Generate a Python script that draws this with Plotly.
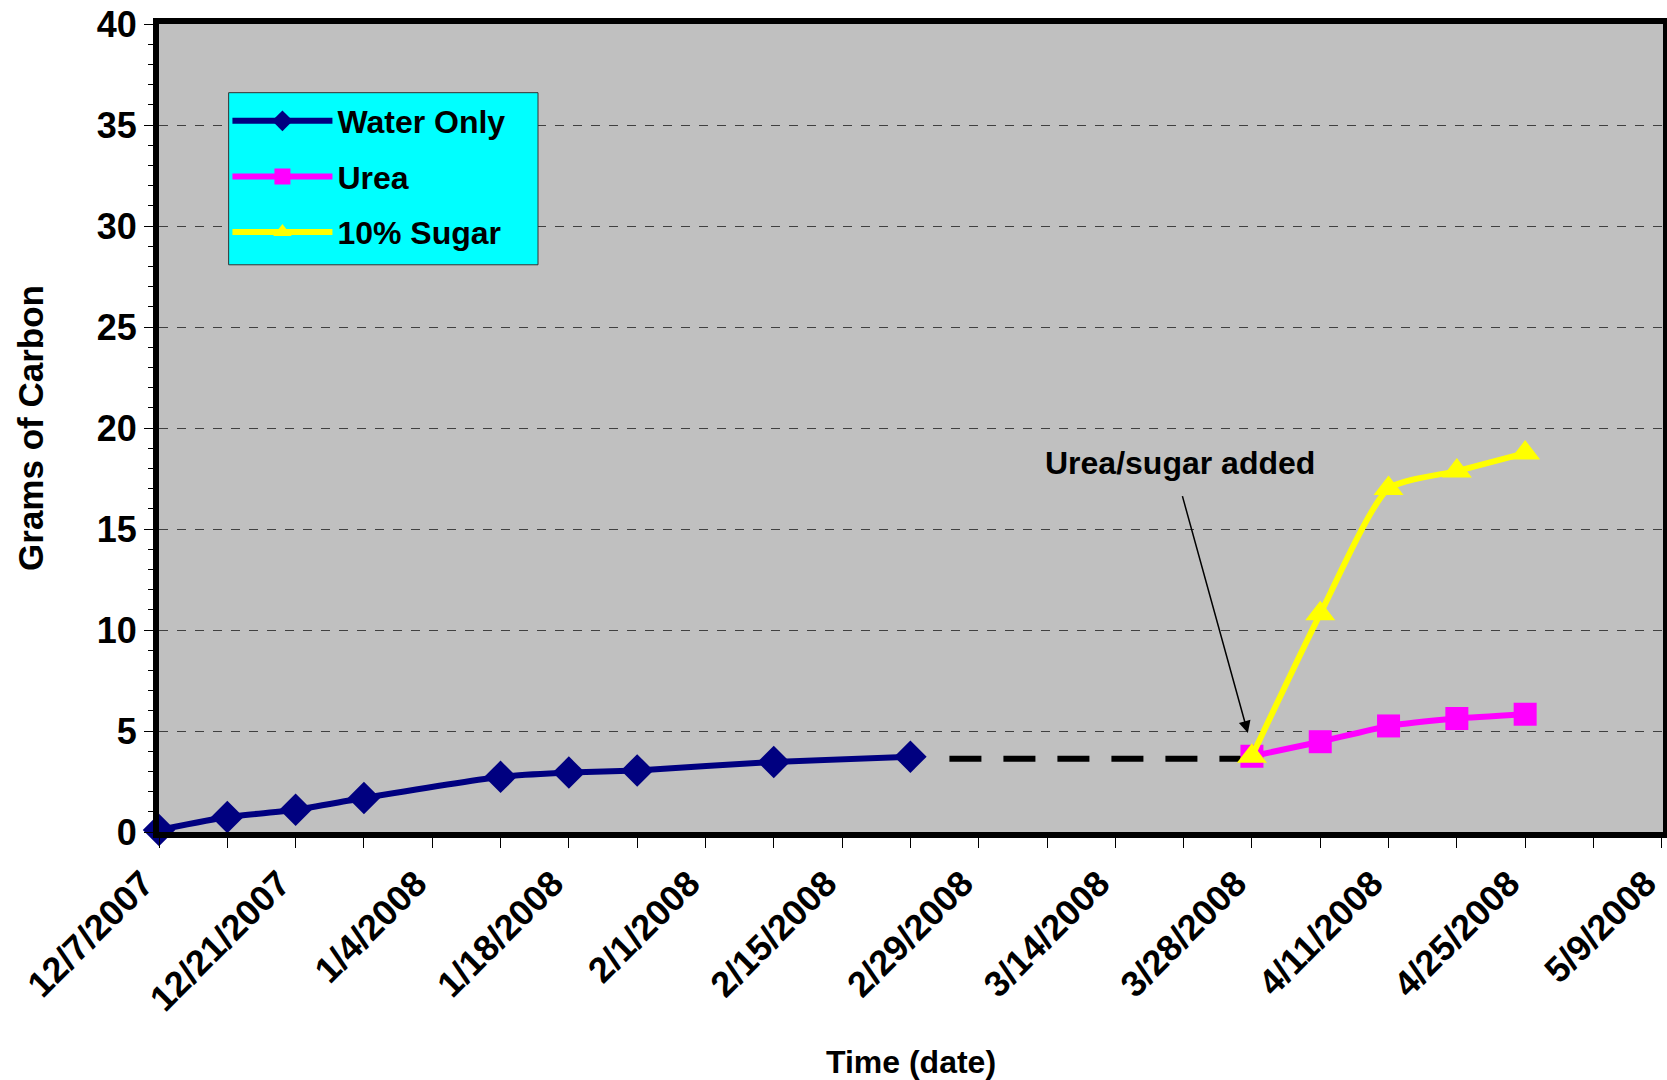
import plotly.graph_objects as go

# Measurement dates and cumulative grams of carbon
water_dates = ["2007-12-07", "2007-12-14", "2007-12-21", "2007-12-28", "2008-01-11",
               "2008-01-18", "2008-01-25", "2008-02-08", "2008-02-22"]
water_values = [0.1, 0.74, 1.1, 1.68, 2.73, 2.94, 3.05, 3.47, 3.73]

treat_dates = ["2008-03-28", "2008-04-04", "2008-04-11", "2008-04-18", "2008-04-25"]
urea_values = [3.75, 4.47, 5.25, 5.62, 5.83]
sugar_values = [3.75, 10.8, 17.0, 17.87, 18.76]

# Unmeasured gap between the water-only run and the treatments
bridge_dates = ["2008-02-26", "2008-03-27 12:00"]
bridge_values = [3.63, 3.63]

# Annotation anchor points (date, grams)
note_text = "Urea/sugar added"
note_text_pos = ("2008-03-20 14:00", 18.25)
note_tail = ("2008-03-20 20:00", 16.7)
note_head = ("2008-03-27 14:00", 4.9)

FONT = "Liberation Sans, Arial, sans-serif"
DAY_MS = 86400000


def bold(size):
    return dict(family=FONT, size=size, color="black", weight="bold")


fig = go.Figure()

fig.add_trace(go.Scatter(
    x=bridge_dates, y=bridge_values, mode="lines",
    line=dict(color="black", width=6, dash="32px,22px"),
    showlegend=False, hoverinfo="skip", cliponaxis=False))

fig.add_trace(go.Scatter(
    x=water_dates, y=water_values, name="Water Only", legendgroup="w",
    mode="lines+markers",
    line=dict(color="#000080", width=6, shape="spline", smoothing=0.5),
    marker=dict(symbol="diamond", size=25, color="#000080"),
    cliponaxis=False))

fig.add_trace(go.Scatter(
    x=treat_dates, y=urea_values, name="Urea", legendgroup="u",
    mode="lines+markers",
    line=dict(color="#FF00FF", width=6, shape="spline", smoothing=0.5),
    marker=dict(symbol="square", size=23, color="#FF00FF"),
    cliponaxis=False))

fig.add_trace(go.Scatter(
    x=treat_dates, y=sugar_values, name="10% Sugar", legendgroup="s",
    mode="lines+markers",
    line=dict(color="#FFFF00", width=6, shape="spline", smoothing=0.6),
    marker=dict(symbol="triangle-up", size=26, color="#FFFF00"),
    cliponaxis=False))

fig.add_annotation(
    x=note_text_pos[0], y=note_text_pos[1], xref="x", yref="y",
    text=note_text, showarrow=False, font=bold(32))

fig.add_annotation(
    x=note_head[0], y=note_head[1], ax=note_tail[0], ay=note_tail[1],
    xref="x", yref="y", axref="x", ayref="y", text="",
    showarrow=True, arrowhead=2, arrowsize=1.6, arrowwidth=1.5, arrowcolor="black")

# Cyan panel behind the legend entries
fig.add_shape(
    type="rect", xref="paper", yref="paper",
    x0=0.0463, x1=0.252, y0=0.702, y1=0.915,
    fillcolor="#00FFFF", line=dict(color="#333333", width=1), layer="above")

fig.update_layout(
    width=1667, height=1080,
    margin=dict(l=159, r=4, t=24, b=248),
    paper_bgcolor="white", plot_bgcolor="#C0C0C0",
    font=bold(30),
    legend=dict(
        x=0.0455, y=0.914, xanchor="left", yanchor="top",
        bgcolor="rgba(0,0,0,0)", borderwidth=0,
        font=bold(32),
        itemwidth=100, tracegroupgap=11,
        entrywidth=200, entrywidthmode="pixels"),
    xaxis=dict(
        type="date", automargin=False,
        range=["2007-12-07", "2008-05-09 03:00"],
        tick0="2007-12-07", dtick=14 * DAY_MS,
        tickformat="%-m/%-d/%Y", tickangle=-45,
        tickfont=bold(36), ticklabeloverflow="allow", ticklabelshift=-16,
        ticks="outside", ticklen=10, tickwidth=1, tickcolor="black",
        minor=dict(dtick=7 * DAY_MS, tick0="2007-12-07", ticks="outside",
                   ticklen=10, tickwidth=1, tickcolor="black"),
        showgrid=False, zeroline=False,
        showline=True, linecolor="black", linewidth=6, mirror=True,
        title=dict(text="Time (date)", standoff=55, font=bold(32))),
    yaxis=dict(
        range=[0, 40], dtick=5, tick0=0, automargin=False,
        tickfont=bold(36),
        ticks="outside", ticklen=9, tickwidth=1, tickcolor="black",
        minor=dict(dtick=1, ticks="outside", ticklen=5, tickwidth=1, tickcolor="black"),
        showgrid=True, gridcolor="#404040", gridwidth=1, griddash="dash",
        zeroline=False,
        showline=True, linecolor="black", linewidth=6, mirror=True,
        title=dict(text="Grams of Carbon", standoff=45, font=bold(35))),
)

fig.write_html("out.html")
